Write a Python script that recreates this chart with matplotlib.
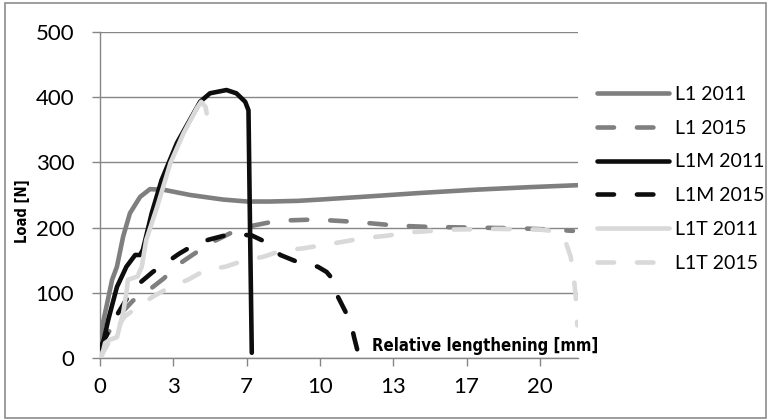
import matplotlib
matplotlib.use("Agg")
import matplotlib.pyplot as plt
from matplotlib.patches import Rectangle

# relative lengthening [mm] and load [N]
l1_2011_x = [0, 0.14, 0.3, 0.55, 0.77, 1.05, 1.36, 1.82, 2.27, 2.9, 4.1, 5.6, 6.7, 7.7, 9.0, 10.0, 12.3, 14.5, 17.0, 19.5, 21.7]
l1_2011_y = [30, 55, 80, 120, 140, 186, 222, 247, 259, 258, 250, 243, 240, 240, 241, 243, 248, 253, 258, 262, 265]

l1_2015_x = [0, 0.5, 1.0, 1.5, 2.1, 2.9, 3.5, 4.2, 5.0, 5.9, 6.8, 7.7, 8.5, 9.4, 10.5, 11.5, 12.5, 13.5, 15.0, 17.0, 19.0, 20.5, 21.5]
l1_2015_y = [20, 45, 70, 88, 101, 122, 142, 158, 176, 191, 202, 208, 211, 212, 211, 209, 206, 203, 201, 200, 199, 197, 195]

l1m_2011_x = [0, 0.14, 0.37, 0.77, 1.2, 1.6, 1.82, 1.95, 2.35, 2.8, 3.5, 4.55, 5.0, 5.75, 6.2, 6.6, 6.75, 6.82, 6.9]
l1m_2011_y = [15, 23, 58, 109, 140, 158, 158, 166, 222, 273, 330, 393, 406, 411, 406, 393, 380, 200, 8]

l1m_2015_x = [0, 0.3, 0.7, 1.2, 1.7, 2.4, 3.0, 3.6, 4.4, 5.0, 5.8, 6.5, 6.9, 7.4, 8.2, 9.0, 9.9, 10.3, 10.6, 10.8, 11.1, 11.4, 11.55, 11.7]
l1m_2015_y = [15, 35, 62, 90, 112, 132, 146, 160, 176, 182, 189, 189, 188, 180, 158, 147, 140, 132, 120, 95, 75, 55, 32, 12]

l1t_2011_x = [0, 0.1, 0.23, 0.45, 0.77, 1.05, 1.2, 1.27, 1.7, 1.9, 2.1, 2.6, 3.2, 3.8, 4.4, 4.6, 4.8, 4.85]
l1t_2011_y = [0, 5, 23, 28, 32, 69, 100, 120, 125, 140, 181, 232, 299, 345, 383, 393, 385, 375]

l1t_2015_x = [0, 0.5, 1.1, 1.7, 2.4, 3.2, 4.0, 4.8, 5.7, 6.6, 7.4, 8.3, 9.2, 10.1, 11.0, 12.0, 12.9, 14.2, 16.0, 18.0, 20.0, 20.5, 20.9, 21.2, 21.4, 21.55, 21.65, 21.7]
l1t_2015_y = [0, 30, 63, 78, 94, 109, 120, 135, 140, 150, 155, 165, 168, 173, 178, 184, 187, 193, 197, 198, 197, 195, 188, 175, 155, 120, 85, 50]

series_names = ["L1 2011", "L1 2015", "L1M 2011", "L1M 2015", "L1T 2011", "L1T 2015"]
x_tick_labels = ["0", "3", "7", "10", "13", "17", "20"]
y_ticks = [0, 100, 200, 300, 400, 500]

grid_col = "#868686"
tick_font = "Lato"

fig = plt.figure(figsize=(7.7, 4.2), dpi=100)
ax = fig.add_axes([100 / 770, 62 / 420, 478 / 770, 326 / 420])

styles = [
    ("#7f7f7f", "-"), ("#7f7f7f", "--"),
    ("#0d0d0d", "-"), ("#0d0d0d", "--"),
    ("#d9d9d9", "-"), ("#d9d9d9", "--"),
]
data = [
    (l1_2011_x, l1_2011_y), (l1_2015_x, l1_2015_y),
    (l1m_2011_x, l1m_2011_y), (l1m_2015_x, l1m_2015_y),
    (l1t_2011_x, l1t_2011_y), (l1t_2015_x, l1t_2015_y),
]
handles = []
for (xs, ys), (col, ls), name in zip(data, styles, series_names):
    line, = ax.plot(xs, ys, color=col, lw=3.3, solid_capstyle="round",
                    dash_capstyle="round", solid_joinstyle="round", label=name, zorder=3)
    if ls == "--":
        line.set_dashes((3.6, 5.0))
    handles.append(line)

ax.set_xlim(0, 21.73)
ax.set_ylim(0, 500)
ax.set_xticks([i * 10 / 3 for i in range(len(x_tick_labels))])
ax.set_xticklabels(x_tick_labels)
ax.set_yticks(y_ticks)
ax.yaxis.grid(True, color=grid_col, lw=1.0, zorder=0)
ax.set_axisbelow(True)
for s in ["top", "right"]:
    ax.spines[s].set_visible(False)
for s in ["left", "bottom"]:
    ax.spines[s].set_color(grid_col)
    ax.spines[s].set_linewidth(1.0)
ax.tick_params(axis="both", colors=grid_col, length=5.5, width=1.0, labelcolor="black")
ax.tick_params(axis="x", pad=8)
ax.tick_params(axis="y", pad=13)
for t in ax.get_xticklabels() + ax.get_yticklabels():
    t.set_family(tick_font)
    t.set_fontsize(16)

fig.text(22 / 770, 1 - 211 / 420, "Load [N]", rotation=90, ha="center", va="center",
         family="DejaVu Sans", fontstretch="condensed", fontweight="bold", fontsize=10.5)
fig.text(372 / 770, 1 - 346 / 420, "Relative lengthening [mm]", ha="left", va="center",
         family="DejaVu Sans", fontstretch="condensed", fontweight="bold", fontsize=12)

leg = ax.legend(handles=handles, loc="upper left", bbox_to_anchor=(597 / 770, 1 - 86 / 420),
                bbox_transform=fig.transFigure, frameon=False, handlelength=3.7,
                handletextpad=0.3, labelspacing=0.86, borderpad=0, borderaxespad=0,
                prop={"family": tick_font, "size": 14})

fig.patches.append(Rectangle((5 / 770, 2 / 420), 761 / 770, 415 / 420, transform=fig.transFigure,
                             fill=False, edgecolor="#8c8c8c", lw=1.2))

fig.savefig("out.png", dpi=100)
